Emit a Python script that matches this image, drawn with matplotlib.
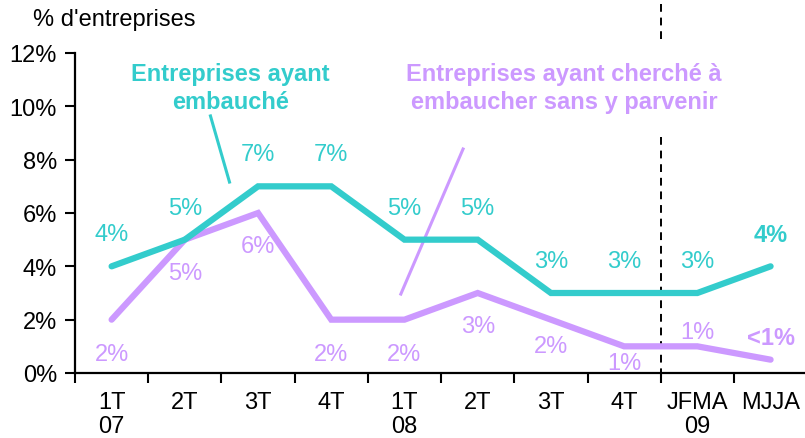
import matplotlib.pyplot as plt
import matplotlib.transforms as mtransforms

plt.rcParams['font.family'] = ['Liberation Sans', 'DejaVu Sans']

categories = ["1T\n07", "2T", "3T", "4T", "1T\n08", "2T", "3T", "4T", "JFMA\n09", "MJJA"]
embauche = [4, 5, 7, 7, 5, 5, 3, 3, 3, 4]
sans_succes = [2, 5, 6, 2, 2, 3, 2, 1, 1, 0.5]
labels_embauche = ["4%", "5%", "7%", "7%", "5%", "5%", "3%", "3%", "3%", "4%"]
labels_sans = ["2%", "5%", "6%", "2%", "2%", "3%", "2%", "1%", "1%", "<1%"]
yticks = [0, 2, 4, 6, 8, 10, 12]

teal = "#33CCCC"
violet = "#CC99FF"
fs = 17

fig = plt.figure(figsize=(8.05, 4.39), dpi=100)
ax = fig.add_axes([75 / 805, 65 / 439, 1 - 75 / 805, 320 / 439])

x = list(range(len(categories)))
ax.plot(x, sans_succes, color=violet, lw=4.5, solid_capstyle='round', solid_joinstyle='miter', zorder=3)
ax.plot(x, embauche, color=teal, lw=4.5, solid_capstyle='round', solid_joinstyle='miter', zorder=4)

# value labels (offsets in points)
off_e = [23] * 10
off_s = [-25, -24, -24, -25, -25, -24, -19, -12, 10, 16]
for i in x:
    ax.annotate(labels_embauche[i], (i, embauche[i]), xytext=(0, off_e[i]), textcoords='offset points',
                ha='center', va='center', color=teal, fontsize=fs,
                fontweight='bold' if i == 9 else 'normal')
    ax.annotate(labels_sans[i], (i, sans_succes[i]), xytext=(0, off_s[i]), textcoords='offset points',
                ha='center', va='center', color=violet, fontsize=fs,
                fontweight='bold' if i == 9 else 'normal')

# series captions with pointer lines
ax.text(1.62, 10.7, "Entreprises ayant\nembauché", ha='center', va='center', color=teal,
        fontsize=fs, fontweight='bold', linespacing=1.25)
ax.plot([1.35, 1.61], [9.64, 7.16], color=teal, lw=2.2)
ax.text(6.18, 10.7, "Entreprises ayant cherché à\nembaucher sans y parvenir", ha='center', va='center',
        color=violet, fontsize=fs, fontweight='bold', linespacing=1.25)
ax.plot([3.95, 4.80], [2.96, 8.40], color=violet, lw=2.2)

# dashed separator 2008 / 2009
trans = mtransforms.blended_transform_factory(ax.transData, fig.transFigure)
for y0, y1 in [(1 - 5 / 439, 1 - 42 / 439), (1 - 138 / 439, 1 - 380 / 439)]:
    ax.plot([7.5, 7.5], [y0, y1], color='black', lw=1.4, ls=(0, (4, 3)), transform=trans, clip_on=False)

ax.set_xlim(-0.5, 9.47)
ax.set_ylim(0, 12)
ax.set_yticks(yticks)
ax.set_yticklabels([f"{v}%" for v in yticks], fontsize=fs)
ax.set_xticks([i - 0.5 for i in x])
ax.set_xticklabels([])
ax.set_xticks(x, minor=True)
ax.set_xticklabels(categories, minor=True, fontsize=fs, linespacing=1.1)
ax.tick_params(axis='x', which='minor', length=0, pad=13)
ax.tick_params(axis='both', which='major', length=7, width=1.5, direction='out')
ax.tick_params(axis='y', pad=6)
for s in ['top', 'right']:
    ax.spines[s].set_visible(False)
for s in ['left', 'bottom']:
    ax.spines[s].set_linewidth(1.6)

fig.text(33 / 805, 1 - 20 / 439, "% d'entreprises", fontsize=fs, va='center', ha='left')

fig.savefig("out.png", dpi=100)
